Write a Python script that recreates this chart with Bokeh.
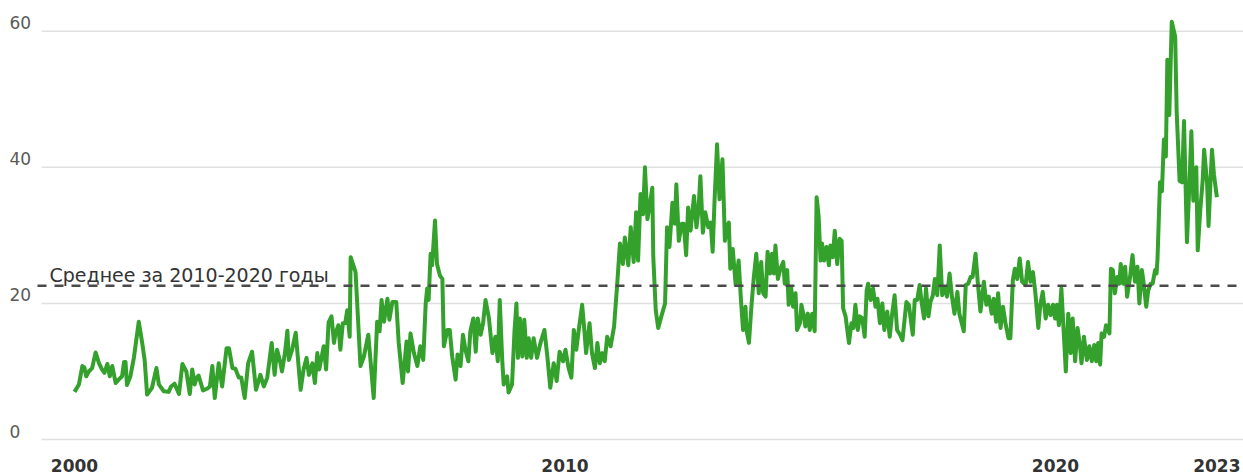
from bokeh.plotting import figure
from bokeh.models import Range1d, FixedTicker, Label, LabelSet, ColumnDataSource
from bokeh.core.properties import value
from bokeh.embed import file_html
from bokeh.resources import INLINE

# ---- data (decimal years) ----
dates = [
    2000.00, 2000.09, 2000.16, 2000.20, 2000.24, 2000.29, 2000.36, 2000.43, 2000.50, 2000.56, 2000.61, 2000.67, 2000.72, 2000.77, 2000.84, 2000.90, 2000.97,
    2001.01, 2001.04, 2001.07, 2001.14, 2001.21, 2001.31, 2001.38, 2001.43, 2001.48, 2001.58, 2001.67, 2001.72, 2001.82, 2001.92, 2001.97,
    2002.04, 2002.13, 2002.20, 2002.28, 2002.35, 2002.40, 2002.45, 2002.49, 2002.53, 2002.62, 2002.71, 2002.76, 2002.81, 2002.86, 2002.94,
    2003.01, 2003.10, 2003.15, 2003.22, 2003.28, 2003.35, 2003.40, 2003.47, 2003.54, 2003.62, 2003.70, 2003.79, 2003.86, 2003.93,
    2004.02, 2004.08, 2004.13, 2004.20, 2004.23, 2004.29, 2004.34, 2004.37, 2004.44, 2004.51, 2004.56, 2004.61, 2004.67, 2004.73, 2004.78, 2004.85, 2004.90, 2004.95, 2004.99,
    2005.08, 2005.13, 2005.18, 2005.24, 2005.29, 2005.32, 2005.38, 2005.42, 2005.47, 2005.52, 2005.56, 2005.61, 2005.63, 2005.73, 2005.83, 2005.90, 2005.99,
    2006.03, 2006.10, 2006.17, 2006.22, 2006.26, 2006.31, 2006.38, 2006.42, 2006.48, 2006.56, 2006.61, 2006.69, 2006.77, 2006.80, 2006.85, 2006.92, 2006.99,
    2007.05, 2007.11, 2007.16, 2007.19, 2007.22, 2007.26, 2007.29, 2007.35, 2007.39, 2007.45, 2007.50, 2007.53, 2007.60, 2007.65, 2007.70, 2007.77, 2007.81, 2007.87, 2007.92, 2007.97,
    2008.03, 2008.07, 2008.13, 2008.18, 2008.22, 2008.28, 2008.33, 2008.38, 2008.45, 2008.52, 2008.58, 2008.63, 2008.67, 2008.72, 2008.75, 2008.82, 2008.85, 2008.92, 2008.97,
    2009.01, 2009.04, 2009.08, 2009.13, 2009.17, 2009.22, 2009.26, 2009.31, 2009.36, 2009.43, 2009.50, 2009.58, 2009.64, 2009.70, 2009.77, 2009.83, 2009.89, 2009.96,
    2010.01, 2010.07, 2010.13, 2010.18, 2010.23, 2010.28, 2010.35, 2010.40, 2010.43, 2010.50, 2010.55, 2010.61, 2010.66, 2010.71, 2010.76, 2010.81, 2010.86, 2010.93,
    2011.00, 2011.06, 2011.12, 2011.18, 2011.22, 2011.29, 2011.34, 2011.40, 2011.45, 2011.49, 2011.54, 2011.59, 2011.63, 2011.68, 2011.72, 2011.78, 2011.80, 2011.85, 2011.90, 2011.98,
    2012.04, 2012.08, 2012.13, 2012.19, 2012.24, 2012.27, 2012.32, 2012.38, 2012.42, 2012.47, 2012.51, 2012.56, 2012.63, 2012.68, 2012.72, 2012.76, 2012.81, 2012.86, 2012.92, 2012.97,
    2013.01, 2013.05, 2013.10, 2013.15, 2013.21, 2013.26, 2013.31, 2013.34, 2013.37, 2013.42, 2013.48, 2013.54, 2013.59, 2013.63, 2013.68, 2013.70, 2013.75, 2013.80, 2013.85, 2013.90, 2013.95,
    2014.00, 2014.04, 2014.09, 2014.13, 2014.18, 2014.22, 2014.26, 2014.29, 2014.34, 2014.39, 2014.45, 2014.48, 2014.53, 2014.56, 2014.61, 2014.65, 2014.70, 2014.73, 2014.79, 2014.82, 2014.87, 2014.90, 2014.95, 2014.99,
    2015.04, 2015.09, 2015.13, 2015.17, 2015.21, 2015.24, 2015.28, 2015.33, 2015.38, 2015.41, 2015.46, 2015.50, 2015.55, 2015.60, 2015.64, 2015.67, 2015.72, 2015.79, 2015.84, 2015.88, 2015.92, 2015.97,
    2016.01, 2016.06, 2016.11, 2016.15, 2016.18, 2016.23, 2016.28, 2016.33, 2016.37, 2016.42, 2016.47, 2016.51, 2016.57, 2016.62, 2016.67, 2016.72, 2016.77, 2016.83, 2016.88, 2016.96,
    2017.01, 2017.09, 2017.13, 2017.18, 2017.23, 2017.27, 2017.32, 2017.36, 2017.41, 2017.45, 2017.50, 2017.54, 2017.59, 2017.64, 2017.69, 2017.74, 2017.79, 2017.84, 2017.89, 2017.94,
    2018.00, 2018.04, 2018.13, 2018.17, 2018.22, 2018.27, 2018.31, 2018.37, 2018.42, 2018.47, 2018.54, 2018.59, 2018.64, 2018.70, 2018.74, 2018.79, 2018.83, 2018.88, 2018.93, 2018.98,
    2019.04, 2019.08, 2019.13, 2019.17, 2019.22, 2019.27, 2019.32, 2019.39, 2019.44, 2019.49, 2019.54, 2019.59, 2019.65, 2019.69, 2019.74, 2019.80, 2019.85, 2019.90, 2019.95, 2019.99,
    2020.03, 2020.07, 2020.12, 2020.21, 2020.26, 2020.31, 2020.35, 2020.40, 2020.45, 2020.50, 2020.53, 2020.58, 2020.64, 2020.69, 2020.74, 2020.79, 2020.83, 2020.87, 2020.91, 2020.94, 2020.99,
    2021.03, 2021.10, 2021.13, 2021.17, 2021.21, 2021.26, 2021.30, 2021.33, 2021.38, 2021.42, 2021.46, 2021.52, 2021.57, 2021.62, 2021.67, 2021.71, 2021.76, 2021.79, 2021.85, 2021.89, 2021.94, 2021.98,
    2022.03, 2022.06, 2022.08, 2022.13, 2022.17, 2022.21, 2022.25, 2022.28, 2022.32, 2022.37, 2022.44, 2022.47, 2022.53, 2022.58, 2022.62, 2022.68, 2022.73, 2022.77, 2022.81, 2022.87, 2022.90, 2022.95,
    2023.00, 2023.03, 2023.09, 2023.12, 2023.19, 2023.23, 2023.29,
]

values = [
    7.0, 8.1, 10.8, 10.6, 9.3, 10.0, 10.5, 12.8, 11.2, 10.3, 9.8, 11.1, 9.3, 10.8, 8.3, 8.8, 9.3,
    11.4, 11.4, 8.0, 9.3, 12.0, 17.3, 14.2, 11.7, 6.6, 7.6, 10.5, 8.1, 7.1, 7.0, 7.8,
    8.2, 6.7, 11.1, 10.0, 6.7, 10.3, 8.1, 9.1, 9.4, 7.2, 7.5, 7.8, 10.8, 6.1, 11.2,
    7.8, 13.4, 13.4, 10.5, 10.4, 9.1, 9.1, 6.1, 11.2, 12.9, 7.3, 9.5, 7.8, 9.1,
    14.2, 9.5, 13.2, 11.2, 10.0, 12.7, 16.0, 11.7, 13.3, 15.7, 11.5, 7.3, 10.3, 12.0, 9.5, 11.2, 8.3, 12.7, 10.3,
    13.7, 10.3, 17.2, 18.1, 14.2, 15.6, 16.8, 13.2, 17.1, 17.1, 19.0, 15.1, 26.8, 24.6, 10.8, 12.2, 15.4,
    12.0, 6.1, 17.3, 15.9, 20.5, 17.3, 20.7, 17.6, 20.2, 20.2, 14.2, 8.3, 14.4, 10.0, 15.6, 12.7, 10.8,
    13.7, 11.7, 20.0, 22.2, 20.5, 27.3, 25.6, 32.2, 25.8, 24.1, 23.6, 13.7, 16.1, 16.1, 12.2, 8.8, 12.5, 10.8, 15.4, 13.2,
    11.5, 15.9, 17.8, 12.9, 17.8, 15.4, 17.1, 20.5, 17.8, 12.7, 15.1, 11.5, 20.5, 11.7, 8.1, 9.3, 6.9, 8.1, 15.9,
    20.0, 12.0, 17.8, 12.2, 17.6, 12.0, 14.9, 12.0, 14.9, 12.0, 14.2, 16.1, 12.2, 7.6, 11.2, 8.6, 12.9, 11.5,
    13.2, 10.6, 9.1, 16.1, 13.2, 16.1, 19.8, 15.6, 12.7, 17.1, 12.7, 10.5, 14.2, 11.2, 12.7, 11.5, 15.1, 13.7,
    16.6, 22.4, 28.8, 25.8, 29.7, 25.6, 31.2, 26.1, 33.4, 26.3, 36.1, 33.1, 40.0, 32.4, 34.1, 37.0, 26.8, 19.0, 16.4, 18.5,
    20.0, 31.2, 28.3, 34.8, 31.7, 37.5, 29.2, 31.7, 31.7, 27.1, 34.1, 30.7, 35.8, 31.2, 33.6, 38.7, 30.4, 33.4, 31.2, 31.9,
    27.6, 35.3, 43.4, 35.3, 41.2, 29.2, 31.4, 31.9, 25.1, 28.0, 22.7, 26.3, 20.2, 16.1, 19.5, 16.1, 14.2, 19.5, 23.9, 27.3, 21.5,
    26.1, 21.5, 21.0, 27.6, 24.4, 27.3, 24.4, 28.5, 23.6, 25.1, 26.1, 22.9, 24.9, 19.8, 22.4, 19.5, 21.5, 16.1, 17.1, 19.8, 18.1, 16.6, 18.5, 16.1,
    18.5, 15.9, 35.6, 32.9, 26.3, 28.8, 26.3, 28.3, 25.6, 28.5, 26.8, 30.7, 25.8, 29.5, 29.2, 19.3, 18.1, 14.2, 17.1, 16.4, 19.8, 16.1,
    18.1, 17.8, 15.1, 21.9, 22.9, 20.5, 22.2, 19.5, 20.7, 17.1, 20.0, 16.1, 18.8, 15.1, 18.5, 21.2, 16.1, 15.4, 14.6, 20.2,
    19.8, 15.4, 20.5, 20.5, 22.7, 20.2, 17.8, 22.2, 18.1, 20.2, 21.2, 23.6, 21.2, 28.5, 21.2, 22.4, 21.0, 24.4, 21.0, 18.5,
    21.7, 18.5, 15.9, 22.7, 22.9, 23.9, 23.9, 27.3, 22.7, 18.8, 23.2, 19.8, 21.0, 18.5, 20.7, 17.3, 21.5, 16.4, 19.5, 17.1,
    14.9, 14.9, 23.4, 25.1, 23.6, 26.6, 23.2, 22.7, 26.1, 23.2, 24.6, 21.5, 16.4, 19.8, 21.7, 17.8, 19.8, 18.3, 19.8, 17.8,
    19.8, 16.8, 22.2, 10.0, 18.5, 12.7, 17.8, 11.5, 16.4, 13.7, 11.2, 15.1, 11.7, 13.7, 11.5, 13.9, 11.5, 14.2, 11.0, 15.6, 15.1,
    16.8, 15.6, 25.1, 24.9, 21.5, 23.9, 22.9, 25.8, 22.9, 25.4, 21.0, 23.9, 27.1, 23.2, 25.4, 20.0, 24.9, 23.4, 19.5, 21.9, 22.9, 22.9,
    24.9, 24.4, 26.6, 37.8, 36.5, 44.1, 41.6, 55.8, 47.7, 61.4, 59.2, 48.2, 38.0, 37.8, 46.8, 29.0, 37.5, 45.3, 35.1, 40.0, 27.8, 33.6,
    38.0, 42.6, 37.8, 31.4, 42.6, 39.0, 35.6,
]

mean_2010_2020 = 22.6
mean_label = "Среднее за 2010-2020 годы"
y_ticks = [0, 20, 40, 60]
x_ticks = [2000, 2010, 2020, dates[-1]]
x_tick_labels = ["2000", "2010", "2020", "2023"]

n = min(len(dates), len(values))
dates, values = dates[:n], values[:n]

# ---- layout ----
W, H = 1243, 474
x_start, x_end = 1998.4913, 2023.8328
ppy = W / (x_end - x_start)          # pixels per year of the frame
grid_x0 = x_start + 41 / ppy         # gridlines start a little right of the labels
mean_x0 = x_start + 37 / ppy

p = figure(width=W, height=H, output_backend="svg", toolbar_location=None,
           x_range=Range1d(x_start, x_end), y_range=Range1d(-0.292, 64.526),
           y_axis_location=None,
           min_border_left=0, min_border_right=0, min_border_top=0, min_border_bottom=30)
p.outline_line_color = None
p.background_fill_color = "white"
p.border_fill_color = "white"
p.xgrid.grid_line_color = None
p.ygrid.grid_line_color = None

# horizontal gridlines
p.segment(x0=[grid_x0] * len(y_ticks), y0=y_ticks, x1=[x_end] * len(y_ticks), y1=y_ticks,
          line_color="#e0e0e0", line_width=1.5)

# x axis
p.xaxis.ticker = FixedTicker(ticks=x_ticks)
p.xaxis.major_label_overrides = {t: s for t, s in zip(x_ticks, x_tick_labels)}
p.xaxis.axis_line_color = None
p.xaxis.major_tick_line_color = None
p.xaxis.minor_tick_line_color = None
p.xaxis.major_label_standoff = 11
p.xaxis.major_label_text_font = "DejaVu Sans"
p.xaxis.major_label_text_font_size = "17px"
p.xaxis.major_label_text_font_style = "bold"
p.xaxis.major_label_text_color = "#333333"

# series
p.line(dates, values, line_color="#34a12d", line_width=4, line_join="round")

# 2010-2020 mean
p.segment(x0=[mean_x0], y0=[mean_2010_2020], x1=[x_end], y1=[mean_2010_2020],
          line_color="#4a4a4a", line_width=2.5, line_dash="9 8")
p.add_layout(Label(x=49, x_units="screen", y=mean_2010_2020, y_offset=11, text=mean_label,
                   text_font="DejaVu Sans", text_font_size="19px", text_color="#333333",
                   text_baseline="alphabetic"))

# y tick labels (left aligned, sitting just above their gridline)
ysrc = ColumnDataSource(dict(y=y_ticks, text=[str(t) for t in y_ticks]))
p.add_layout(LabelSet(source=ysrc, x=9, y="y", text="text", x_units="screen", y_offset=2,
                      text_font=value("DejaVu Sans"), text_font_size=value("17px"),
                      text_color="#5a5a5a", text_baseline="alphabetic", text_align="left"))

open("out.html", "w").write(file_html(p, INLINE))
